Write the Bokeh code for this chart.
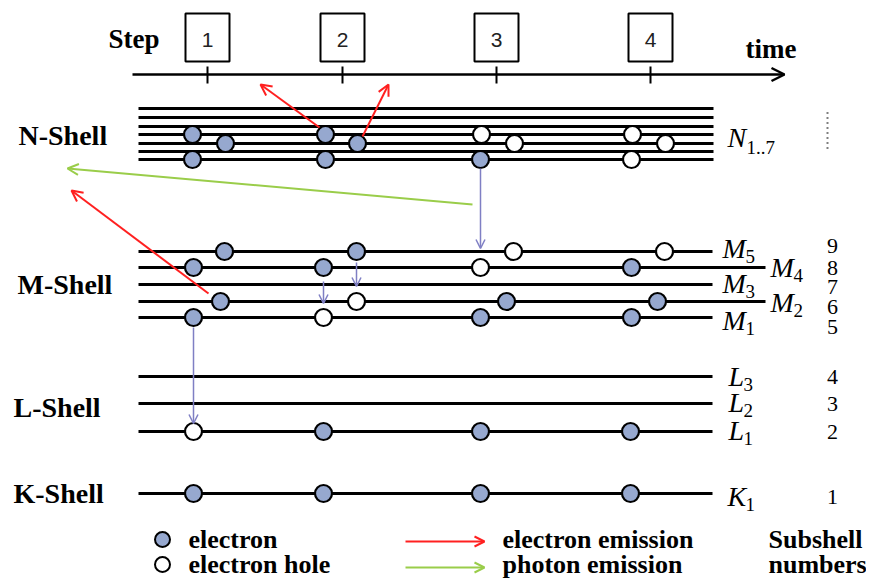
from bokeh.plotting import figure
from bokeh.models import Range1d, ColumnDataSource, Arrow, OpenHead
from bokeh.core.properties import value
from bokeh.embed import file_html
from bokeh.resources import INLINE

# ---------------- data ----------------
step_labels = ["1", "2", "3", "4"]
step_x = [207, 342, 496, 650]

n_y = [108, 117, 126, 134, 143, 151, 159]
m_names = ["5", "4", "3", "2", "1"]
m_y = [251, 267, 284, 301, 317]
m_end = [712, 765, 712, 765, 712]
l_names = ["3", "2", "1"]
l_y = [376, 403, 431]
k_y = [493]

subshell_numbers = ["9", "8", "7", "6", "5", "4", "3", "2", "1"]
subshell_y = [245, 267, 286, 306, 326, 376, 403, 431, 496]

shell_labels = ["N-Shell", "M-Shell", "L-Shell", "K-Shell"]
shell_label_x = [18, 17, 13, 13]
shell_label_y = [135, 284, 407, 493]

# circles: x, y, state (1 = electron, 0 = electron hole)
circ_x = [192, 225, 192, 325, 357, 325, 481, 514, 480, 632, 665, 631,
          224, 193, 220, 193, 356, 323, 356, 323, 513, 480, 506, 480, 664, 631, 657, 631,
          193, 323, 480, 630,
          193, 323, 480, 630]
circ_y = [134, 143, 159, 134, 143, 159, 134, 143, 159, 134, 143, 159,
          251, 267, 301, 317, 251, 267, 301, 317, 251, 267, 301, 317, 251, 267, 301, 317,
          431, 431, 431, 431,
          493, 493, 493, 493]
circ_state = [1, 1, 1, 1, 1, 1, 0, 0, 1, 0, 0, 0,
              1, 1, 1, 1, 1, 1, 0, 0, 0, 0, 1, 1, 0, 1, 1, 1,
              0, 1, 1, 1,
              1, 1, 1, 1]

# transitions
red_x0 = [319, 362, 208]
red_y0 = [127, 136, 293]
red_x1 = [260, 388, 71]
red_y1 = [84, 84, 190]
green_x0 = [472]
green_y0 = [204]
green_x1 = [67]
green_y1 = [168]
blue_x0 = [480, 193, 323, 356]
blue_y0 = [168, 327, 281, 262]
blue_x1 = [480, 193, 323, 356]
blue_y1 = [248, 423, 303, 286]

ELEC = "#96a8cf"
RED = "#ff2020"
GREEN = "#9acd4a"
BLUE = "#7f7fc4"
SERIF = "Liberation Serif"

p = figure(width=866, height=579, x_range=Range1d(0, 866), y_range=Range1d(579, 0),
           x_axis_type=None, y_axis_type=None, toolbar_location=None,
           output_backend="svg", min_border=0)
p.outline_line_color = None
p.xgrid.visible = False
p.ygrid.visible = False
p.background_fill_color = "white"

# time axis
p.add_layout(Arrow(end=OpenHead(size=13, line_width=2.5, line_color="black"),
                   x_start=132, y_start=74, x_end=784, y_end=74,
                   line_width=2.5, line_color="black"))
p.segment(x0=step_x, y0=[66] * 4, x1=step_x, y1=[83] * 4, line_width=2, line_color="black")
p.quad(left=[x - 22 for x in step_x], right=[x + 22 for x in step_x],
       top=[13] * 4, bottom=[61] * 4, fill_color=None, line_color="black", line_width=2)
p.text(x=step_x, y=[39] * 4, text=step_labels, text_align="center", text_baseline="middle",
       text_font=value("Liberation Sans"), text_font_size="21px", text_color="#222222")
p.text(x=[108], y=[38], text=["Step"], text_font=value(SERIF), text_font_style="bold",
       text_font_size="27px", text_baseline="middle")
p.text(x=[745], y=[48], text=["time"], text_font=value(SERIF), text_font_style="bold",
       text_font_size="27px", text_baseline="middle")

# shell lines
p.segment(x0=[138] * 7, y0=n_y, x1=[713] * 7, y1=n_y, line_width=3, line_color="black")
p.segment(x0=[138] * 5, y0=m_y, x1=m_end, y1=m_y, line_width=3, line_color="black")
p.segment(x0=[138] * 3, y0=l_y, x1=[712] * 3, y1=l_y, line_width=3, line_color="black")
p.segment(x0=[138], y0=k_y, x1=[712], y1=k_y, line_width=3, line_color="black")

# shell labels
p.text(x=shell_label_x, y=shell_label_y, text=shell_labels, text_font=value(SERIF),
       text_font_style="bold", text_font_size="28px", text_baseline="middle")

# subshell names
lab_x = [722, 770, 722, 770, 722]
m_lab_y = [248, 267, 283, 302, 320]
p.text(x=lab_x, y=m_lab_y, text=["M"] * 5, text_font=value(SERIF), text_font_style="italic",
       text_font_size="28px", text_baseline="middle")
p.text(x=[x + 23 for x in lab_x], y=[y + 8 for y in m_lab_y], text=m_names,
       text_font=value(SERIF), text_font_size="19px", text_baseline="middle")
l_lab_y = [376, 402, 430]
p.text(x=[728] * 3, y=l_lab_y, text=["L"] * 3, text_font=value(SERIF), text_font_style="italic",
       text_font_size="28px", text_baseline="middle")
p.text(x=[743] * 3, y=[y + 8 for y in l_lab_y], text=l_names,
       text_font=value(SERIF), text_font_size="19px", text_baseline="middle")
p.text(x=[727], y=[496], text=["K"], text_font=value(SERIF), text_font_style="italic",
       text_font_size="28px", text_baseline="middle")
p.text(x=[745], y=[504], text=["1"], text_font=value(SERIF), text_font_size="19px",
       text_baseline="middle")
p.text(x=[727], y=[137], text=["N"], text_font=value(SERIF), text_font_style="italic",
       text_font_size="28px", text_baseline="middle")
p.text(x=[746], y=[147], text=["1..7"], text_font=value(SERIF), text_font_size="19px",
       text_baseline="middle")

# dotted continuation
p.segment(x0=[827], y0=[112], x1=[827], y1=[150], line_width=2, line_color="black", line_dash="1 4")

# subshell numbers
p.text(x=[832] * len(subshell_numbers), y=subshell_y, text=subshell_numbers,
       text_font=value(SERIF), text_font_size="22px", text_align="center", text_baseline="middle")

# arrows
def arrows(x0, y0, x1, y1, color, width, head):
    src = ColumnDataSource(dict(x0=x0, y0=y0, x1=x1, y1=y1))
    p.add_layout(Arrow(end=OpenHead(size=head, line_color=color, line_width=width),
                       x_start="x0", y_start="y0", x_end="x1", y_end="y1", source=src,
                       line_color=color, line_width=width))

arrows(red_x0, red_y0, red_x1, red_y1, RED, 2, 11)
arrows(green_x0, green_y0, green_x1, green_y1, GREEN, 2, 11)
arrows(blue_x0, blue_y0, blue_x1, blue_y1, BLUE, 1.5, 9)

# circles
fills = [ELEC if s else "white" for s in circ_state]
p.scatter(x=circ_x, y=circ_y, size=17, fill_color=fills, line_color="black", line_width=2.2)

# legend
leg_y = [539, 564]
p.scatter(x=[162, 162], y=leg_y, size=15, fill_color=[ELEC, "white"], line_color="black", line_width=2)
p.text(x=[188, 188], y=leg_y, text=["electron", "electron hole"], text_font=value(SERIF),
       text_font_style="bold", text_font_size="26px", text_baseline="middle")
arrows([405], [leg_y[0] + 2], [484], [leg_y[0] + 2], RED, 2, 10)
arrows([405], [leg_y[1] + 3], [484], [leg_y[1] + 3], GREEN, 2, 10)
p.text(x=[502, 502], y=leg_y, text=["electron emission", "photon emission"],
       text_font=value(SERIF), text_font_style="bold", text_font_size="26px",
       text_baseline="middle")
p.text(x=[768, 768], y=leg_y, text=["Subshell", "numbers"], text_font=value(SERIF),
       text_font_style="bold", text_font_size="26px", text_baseline="middle")

open("out.html", "w").write(file_html(p, INLINE))
